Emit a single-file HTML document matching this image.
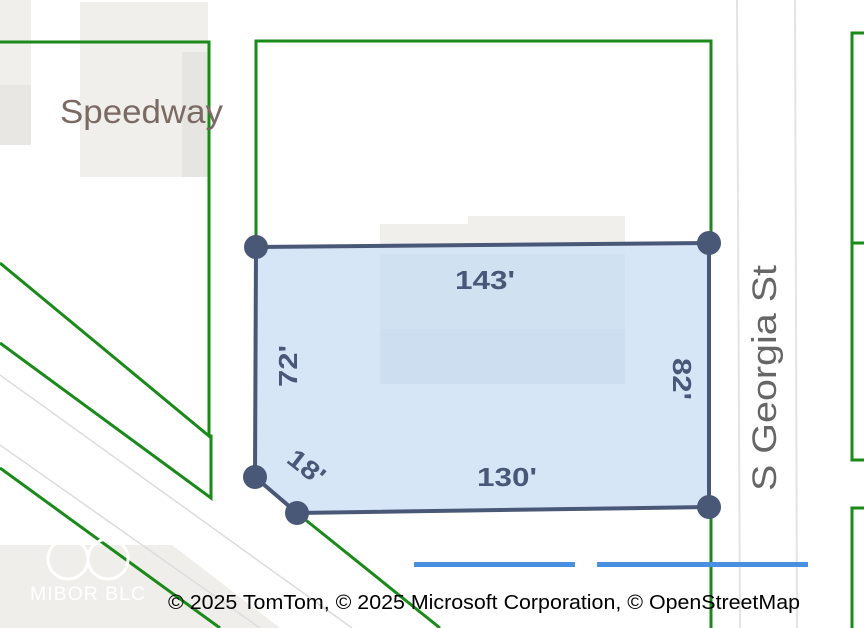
<!DOCTYPE html>
<html><head><meta charset="utf-8"><style>
html,body{margin:0;padding:0;background:#fff;}
svg{display:block;}
</style></head><body>
<svg width="864" height="628" viewBox="0 0 864 628" xmlns="http://www.w3.org/2000/svg">
<rect width="864" height="628" fill="#fff"/>
<!-- buildings -->
<rect x="0" y="0" width="31" height="145" fill="#f1efeb"/>
<rect x="0" y="85" width="31" height="60" fill="#e9e7e3"/>
<rect x="80" y="2" width="128" height="175" fill="#f1efeb"/>
<rect x="182" y="52" width="26" height="125" fill="#e7e5e1"/>
<rect x="380" y="224" width="90" height="30" fill="#f1efeb"/>
<rect x="468" y="216" width="157" height="38" fill="#f1efeb"/>
<!-- bottom-left beige -->
<polygon points="0,545 172,545 280,628 0,628" fill="#f0eeea"/>
<!-- road lines -->
<line x1="737" y1="0" x2="740" y2="628" stroke="#e4e4e4" stroke-width="2"/>
<line x1="795" y1="0" x2="797" y2="628" stroke="#e4e4e4" stroke-width="2"/>
<line x1="0" y1="375" x2="352" y2="628" stroke="#dcdcdc" stroke-width="1.5"/>
<line x1="0" y1="445" x2="260" y2="628" stroke="#dcdcdc" stroke-width="1.5"/>
<!-- green parcel lines -->
<g fill="none" stroke="#1a8a1a" stroke-width="3">
<polyline points="0,42 209,42 209,436 0,263"/>
<polyline points="209,436 211,436 211,498 0,343"/>
<line x1="0" y1="468" x2="220" y2="628"/>
<line x1="297" y1="513" x2="440" y2="628"/>
<polyline points="256,247 256,41 711,41 711,243"/>
<line x1="711" y1="507" x2="711" y2="628"/>
<polyline points="864,33 852,33 852,460 864,460"/>
<line x1="852" y1="243" x2="864" y2="243"/>
<polyline points="864,508 852,508 852,628"/>
</g>
<!-- parcel -->
<polygon points="256,247 709,243 709,507 297,513 255,477" fill="#d6e6f7" stroke="#4a5878" stroke-width="4" stroke-linejoin="round"/>
<rect x="380" y="254" width="245" height="130" fill="#cbdcee" opacity="0.8"/>
<rect x="380" y="254" width="245" height="75" fill="#d1e1f2" opacity="0.8"/>
<g fill="#4a5878">
<circle cx="256" cy="247" r="12"/><circle cx="709" cy="243" r="12"/>
<circle cx="709" cy="507" r="12"/><circle cx="297" cy="513" r="12"/>
<circle cx="255" cy="477" r="12"/>
</g>
<g font-family="Liberation Sans, sans-serif" font-weight="bold" font-size="26" fill="#4a5878">
<text x="485" y="289" text-anchor="middle" textLength="60" lengthAdjust="spacingAndGlyphs">143'</text>
<text x="507" y="486" text-anchor="middle" textLength="60" lengthAdjust="spacingAndGlyphs">130'</text>
<text transform="translate(297,366) rotate(-90)" text-anchor="middle" textLength="42" lengthAdjust="spacingAndGlyphs">72'</text>
<text transform="translate(673,379) rotate(90)" text-anchor="middle" textLength="42" lengthAdjust="spacingAndGlyphs">82'</text>
<text transform="translate(301,474) rotate(38)" text-anchor="middle" textLength="40" lengthAdjust="spacingAndGlyphs">18'</text>
</g>
<text x="60" y="123" font-family="Liberation Sans, sans-serif" font-size="33" fill="#7a6a63" textLength="163" lengthAdjust="spacingAndGlyphs">Speedway</text>
<text transform="translate(776,378) rotate(-90)" text-anchor="middle" font-family="Liberation Sans, sans-serif" font-size="34" fill="#666" textLength="226" lengthAdjust="spacingAndGlyphs">S Georgia St</text>
<!-- scale bars -->
<rect x="414" y="562" width="161" height="5" fill="#4a90e2"/>
<rect x="597" y="562" width="211" height="5" fill="#4a90e2"/>
<!-- logo -->
<g fill="none" stroke="#fff" stroke-width="3">
<circle cx="68" cy="559" r="20"/><circle cx="108" cy="559" r="20"/>
</g>
<text x="30" y="600" font-family="Liberation Sans, sans-serif" font-size="19" fill="#fff" letter-spacing="1" textLength="116" lengthAdjust="spacingAndGlyphs">MIBOR BLC</text>
<text x="168" y="609" font-family="Liberation Sans, sans-serif" font-size="20" fill="#000" textLength="632" lengthAdjust="spacingAndGlyphs">© 2025 TomTom, © 2025 Microsoft Corporation, © OpenStreetMap</text>
</svg>
</body></html>
